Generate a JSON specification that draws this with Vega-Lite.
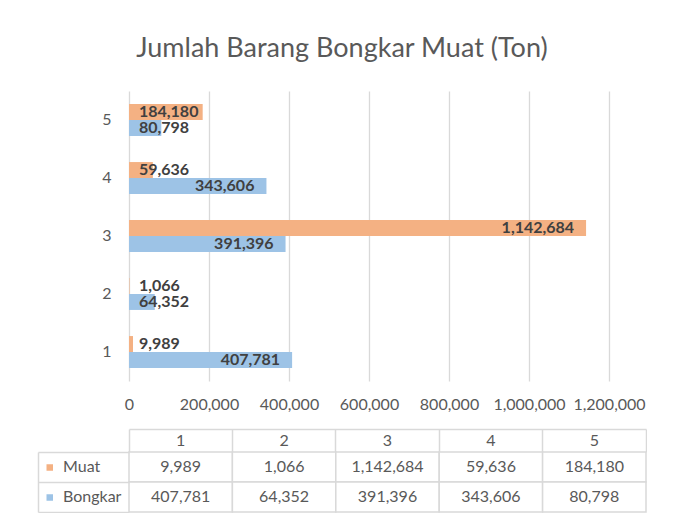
{
  "$schema": "https://vega.github.io/schema/vega-lite/v6.json",
  "padding": {"left": 37, "top": 35, "right": 0, "bottom": 0},
  "background": "white",
  "datasets": {
    "d": [
      {"kategori": "1", "seri": "Muat", "nilai": 9989},
      {"kategori": "1", "seri": "Bongkar", "nilai": 407781},
      {"kategori": "2", "seri": "Muat", "nilai": 1066},
      {"kategori": "2", "seri": "Bongkar", "nilai": 64352},
      {"kategori": "3", "seri": "Muat", "nilai": 1142684},
      {"kategori": "3", "seri": "Bongkar", "nilai": 391396},
      {"kategori": "4", "seri": "Muat", "nilai": 59636},
      {"kategori": "4", "seri": "Bongkar", "nilai": 343606},
      {"kategori": "5", "seri": "Muat", "nilai": 184180},
      {"kategori": "5", "seri": "Bongkar", "nilai": 80798}
    ]
  },
  "title": {"text": "Jumlah Barang Bongkar Muat (Ton)", "font": "Lato", "fontSize": 27, "fontWeight": "normal", "color": "#595959", "anchor": "middle", "offset": 28},
  "spacing": 16,
  "config": {"view": {"stroke": null}, "font": "Lato"},
  "vconcat": [
    {
      "width": 480,
      "height": 290,
      "data": {"name": "d"},
      "encoding": {
        "y": {"field": "kategori", "type": "ordinal", "sort": "descending",
              "scale": {"paddingInner": 0.45, "paddingOuter": 0.225},
              "axis": {"title": null, "domain": false, "ticks": false, "labelPadding": 18, "labelFontSize": 16, "labelColor": "#595959", "labelFont": "Lato", "minExtent": 91, "maxExtent": 91, "labelAngle": 0}},
        "yOffset": {"field": "seri", "type": "nominal", "sort": ["Muat", "Bongkar"], "scale": {"paddingInner": 0, "paddingOuter": 0}},
        "x": {"field": "nilai", "type": "quantitative", "scale": {"domain": [0, 1200000], "nice": false},
              "axis": {"title": null, "values": [0, 200000, 400000, 600000, 800000, 1000000, 1200000], "format": ",.0f", "domain": false, "ticks": false, "grid": true, "gridColor": "#D9D9D9", "gridWidth": 1.3, "labelPadding": 15, "labelFontSize": 16, "labelColor": "#595959", "labelFont": "Lato", "labelOverlap": false, "labelFlush": false, "labelBound": false, "minExtent": 30, "maxExtent": 30}}
      },
      "layer": [
        {
          "mark": {"type": "bar"},
          "encoding": {
            "color": {"field": "seri", "type": "nominal", "scale": {"domain": ["Muat", "Bongkar"], "range": ["#F4B183", "#9DC3E6"]}, "legend": null}
          }
        },
        {
          "transform": [{"filter": "datum.nilai >= 250000"}],
          "mark": {"type": "text", "align": "right", "dx": -12, "baseline": "middle", "fontWeight": "bold", "fontSize": 16, "font": "Lato", "color": "#404040"},
          "encoding": {
            "text": {"field": "nilai", "type": "quantitative", "format": ","}
          }
        },
        {
          "transform": [{"filter": "datum.nilai < 250000"}],
          "mark": {"type": "text", "align": "left", "dx": 10, "baseline": "middle", "fontWeight": "bold", "fontSize": 16, "font": "Lato", "color": "#404040"},
          "encoding": {
            "x": {"datum": 0, "type": "quantitative"},
            "text": {"field": "nilai", "type": "quantitative", "format": ","}
          }
        }
      ]
    },
    {
      "width": 517,
      "height": 60,
      "data": {"name": "d"},
      "resolve": {"axis": {"x": "independent", "y": "independent"}},
      "layer": [
        {
          "mark": {"type": "rect", "fill": "white", "stroke": "#D9D9D9", "strokeWidth": 1.5},
          "encoding": {
            "x": {"field": "kategori", "type": "ordinal", "scale": {"paddingInner": 0, "paddingOuter": 0},
                  "axis": {"orient": "top", "title": null, "offset": 23, "domain": false, "ticks": false, "labelPadding": -11.5, "labelBaseline": "middle", "labelFontSize": 16, "labelFont": "Lato", "labelColor": "#595959", "labelAngle": 0, "minExtent": 0, "maxExtent": 0}},
            "y": {"field": "seri", "type": "nominal", "sort": ["Muat", "Bongkar"], "scale": {"paddingInner": 0, "paddingOuter": 0},
                  "axis": {"orient": "left", "title": null, "offset": 91, "domain": true, "domainColor": "#D9D9D9", "domainWidth": 1.5, "ticks": true, "tickSize": -91, "tickColor": "#D9D9D9", "tickWidth": 1.5, "bandPosition": 1, "tickExtra": true, "labels": false, "minExtent": 0, "maxExtent": 0}}
          }
        },
        {
          "mark": {"type": "text", "fontSize": 16, "font": "Lato", "color": "#595959", "baseline": "middle"},
          "encoding": {
            "x": {"field": "kategori", "type": "ordinal",
                  "axis": {"orient": "top", "title": null, "offset": 23, "domain": true, "domainColor": "#D9D9D9", "domainWidth": 1.5, "ticks": true, "tickSize": -23, "tickColor": "#D9D9D9", "tickWidth": 1.5, "bandPosition": 1, "tickExtra": true, "labels": false, "minExtent": 0, "maxExtent": 0}},
            "y": {"field": "seri", "type": "nominal", "sort": ["Muat", "Bongkar"],
                  "axis": {"orient": "right", "title": null, "offset": -600, "domain": false, "ticks": true, "tickSize": 6.5, "tickWidth": 6.5, "bandPosition": 0.5, "tickColor": {"condition": {"test": "datum.value === 'Muat'", "value": "#F4B183"}, "value": "#9DC3E6"}, "labelPadding": 10, "labelAlign": "left", "labelBaseline": "middle", "labelFontSize": 16, "labelFont": "Lato", "labelColor": "#595959", "minExtent": 0, "maxExtent": 0}},
            "text": {"field": "nilai", "type": "quantitative", "format": ","}
          }
        }
      ]
    }
  ]
}
